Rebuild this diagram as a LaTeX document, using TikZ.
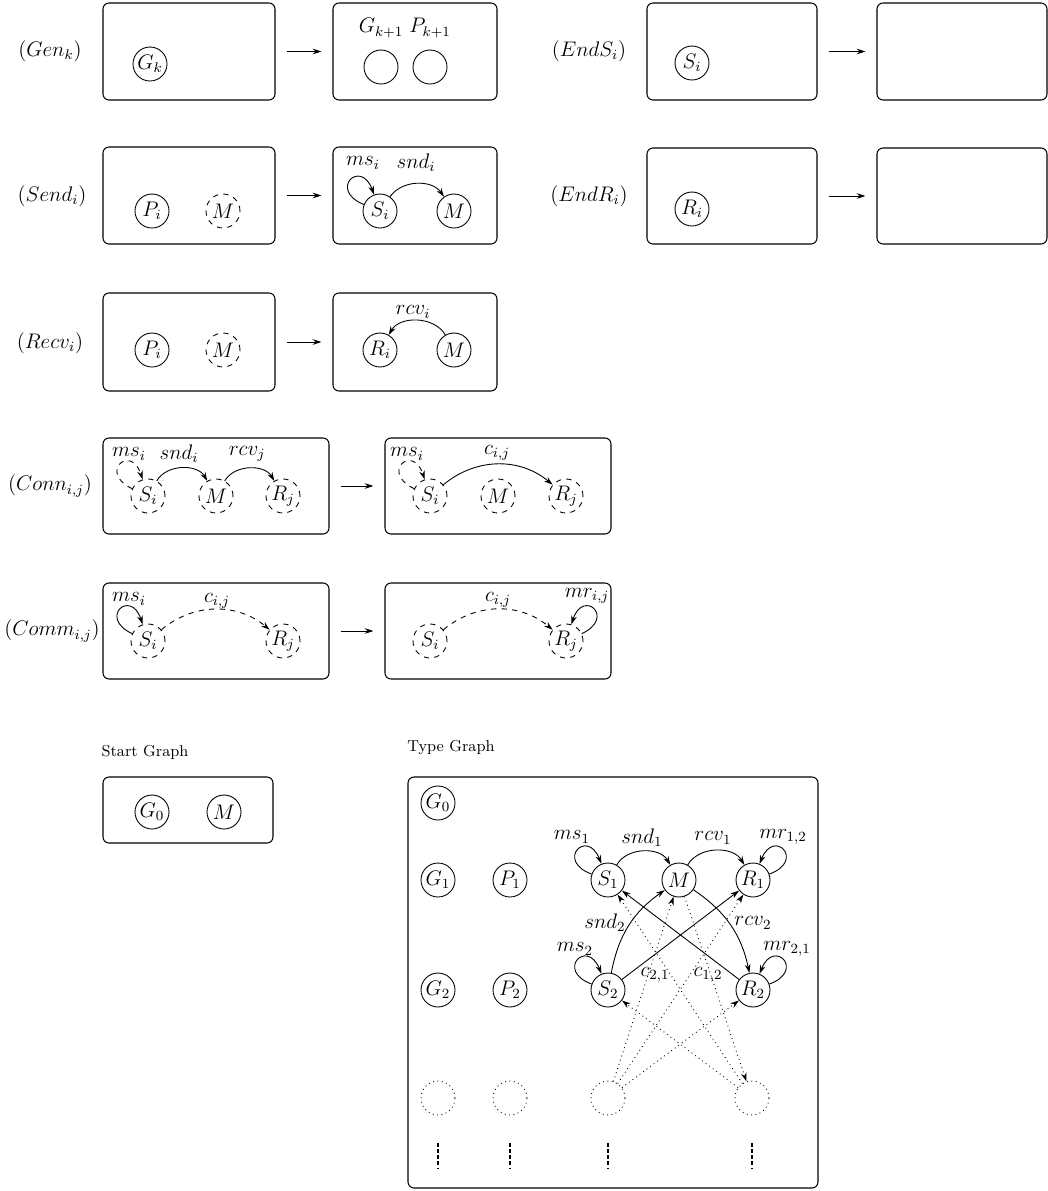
\documentclass[tikz,border=0pt]{standalone}
\usetikzlibrary{arrows.meta,fit}
\begin{document}
\begin{tikzpicture}[x=0.02cm,y=-0.02cm,
  nd/.style={circle,draw,line width=0.5pt,minimum size=0.68cm,inner sep=0pt,font=\fontsize{12}{14}\selectfont},
  dnd/.style={nd,dashed},
  tnd/.style={nd,dotted},
  lbl/.style={inner sep=0pt,font=\fontsize{12}{14}\selectfont},
  ttl/.style={inner sep=0pt,font=\fontsize{9}{11}\selectfont},
  rbox/.style={draw,rounded corners=0.12cm,line width=0.6pt,inner sep=0pt},
  arr/.style={-{Stealth[length=5pt,width=3.2pt]},line width=0.5pt},
  rarr/.style={arr,shorten <=0.22cm,shorten >=0.22cm},
  lp/.style={loop,looseness=7},
  every loop/.style={},
  vdots/.style={line width=0.8pt,dash pattern=on 2pt off 1.5pt},
]
\useasboundingbox (0,0) rectangle (1048,1191);

% ---------- Gen_k
\node[lbl] (tGen) at (50,51) {$(Gen_k)$};
\node[rbox,fit={(103,3) (275,100)}] (genL) {};
\node[nd] (genGk) at (150,64) {$G_k$};
\node[rbox,fit={(333,3) (497,100)}] (genR) {};
\node[nd] (genG) at (381,67) {};
\node[nd] (genP) at (430,67) {};
\node[lbl] (genGl) at (381,28) {$G_{k+1}$};
\node[lbl] (genPl) at (430,28) {$P_{k+1}$};
\draw[rarr] (genL) -- (genR);

% ---------- EndS_i
\node[lbl] (tEndS) at (589,51) {$(EndS_i)$};
\node[rbox,fit={(647,3) (817,100)}] (endsL) {};
\node[nd] (endsS) at (692,63) {$S_i$};
\node[rbox,fit={(877,3) (1047,100)}] (endsR) {};
\draw[rarr] (endsL) -- (endsR);

% ---------- EndR_i
\node[lbl] (tEndR) at (589,196) {$(EndR_i)$};
\node[rbox,fit={(647,148) (817,244)}] (endrL) {};
\node[nd] (endrR) at (692,209) {$R_i$};
\node[rbox,fit={(877,148) (1047,244)}] (endrRb) {};
\draw[rarr] (endrL) -- (endrRb);

% ---------- Send_i
\node[lbl] (tSend) at (52,196) {$(Send_i)$};
\node[rbox,fit={(103,147) (275,244)}] (sendL) {};
\node[nd] (sendP) at (152,211) {$P_i$};
\node[dnd] (sendM) at (223,211) {$M$};
\node[rbox,fit={(333,147) (497,244)}] (sendR) {};
\node[nd] (sendS) at (380,211) {$S_i$};
\node[nd] (sendM2) at (454,211) {$M$};
\node[lbl] (sendms) at (363,163) {$ms_i$};
\node[lbl] (sendsnd) at (416,163) {$snd_i$};
\draw[arr] (sendS) to[lp,out=158,in=110] (sendS);
\draw[arr] (sendS) to[bend left=55] (sendM2);
\draw[rarr] (sendL) -- (sendR);

% ---------- Recv_i
\node[lbl] (tRecv) at (50,343) {$(Recv_i)$};
\node[rbox,fit={(103,293) (275,391)}] (recvL) {};
\node[nd] (recvP) at (152,350) {$P_i$};
\node[dnd] (recvM) at (223,350) {$M$};
\node[rbox,fit={(333,293) (497,391)}] (recvR) {};
\node[nd] (recvRi) at (380,350) {$R_i$};
\node[nd] (recvM2) at (454,350) {$M$};
\node[lbl] (recvrcv) at (413,312) {$rcv_i$};
\draw[arr] (recvM2) to[bend right=60] (recvRi);
\draw[rarr] (recvL) -- (recvR);

% ---------- Conn_{i,j}
\node[lbl] (tConn) at (50,486) {$(Conn_{i,j})$};
\node[rbox,fit={(103,438) (329,534)}] (connL) {};
\node[dnd] (connS) at (148,496) {$S_i$};
\node[dnd] (connM) at (216,496) {$M$};
\node[dnd] (connR) at (283,496) {$R_j$};
\node[lbl] (connms) at (129,454) {$ms_i$};
\node[lbl] (connsnd) at (179,454) {$snd_i$};
\node[lbl] (connrcv) at (247,454) {$rcv_j$};
\draw[arr,dashed] (connS) to[lp,out=155,in=108] (connS);
\draw[arr] (connS) to[bend left=60] (connM);
\draw[arr] (connM) to[bend left=60] (connR);
\node[rbox,fit={(385,438) (611,534)}] (connRb) {};
\node[dnd] (connS2) at (430,496) {$S_i$};
\node[dnd] (connM2) at (498,496) {$M$};
\node[dnd] (connR2) at (566,496) {$R_j$};
\node[lbl] (connms2) at (407,454) {$ms_i$};
\node[lbl] (connc) at (497,453) {$c_{i,j}$};
\draw[arr,dashed] (connS2) to[lp,out=155,in=108] (connS2);
\draw[arr] (connS2) to[bend left=40] (connR2);
\draw[rarr] (connL) -- (connRb);

% ---------- Comm_{i,j}
\node[lbl] (tComm) at (52,631) {$(Comm_{i,j})$};
\node[rbox,fit={(103,583) (329,679)}] (commL) {};
\node[dnd] (commS) at (148,641) {$S_i$};
\node[dnd] (commR) at (283,641) {$R_j$};
\node[lbl] (commms) at (129,599) {$ms_i$};
\node[lbl] (commc) at (217,601) {$c_{i,j}$};
\draw[arr] (commS) to[lp,out=155,in=108] (commS);
\draw[arr,dashed] (commS) to[bend left=40] (commR);
\node[rbox,fit={(385,583) (611,679)}] (commRb) {};
\node[dnd] (commS2) at (430,641) {$S_i$};
\node[dnd] (commR2) at (566,641) {$R_j$};
\node[lbl] (commc2) at (498,600) {$c_{i,j}$};
\node[lbl] (commmr) at (587,596) {$mr_{i,j}$};
\draw[arr,dashed] (commS2) to[bend left=40] (commR2);
\draw[arr] (commR2) to[lp,out=25,in=72] (commR2);
\draw[rarr] (commL) -- (commRb);

% ---------- Start graph
\node[ttl] (tStart) at (145,752) {Start Graph};
\node[rbox,fit={(103,777) (273,843)}] (startB) {};
\node[nd] (stG0) at (152,812) {$G_0$};
\node[nd] (stM) at (224,812) {$M$};

% ---------- Type graph
\node[ttl] (tType) at (451,748) {Type Graph};
\node[rbox,fit={(408,777) (818,1188)}] (typeB) {};
\node[nd] (tG0) at (438,803) {$G_0$};
\node[nd] (tG1) at (438,880) {$G_1$};
\node[nd] (tP1) at (510,880) {$P_1$};
\node[nd] (tG2) at (438,990) {$G_2$};
\node[nd] (tP2) at (510,990) {$P_2$};
\node[nd] (tS1) at (608,880) {$S_1$};
\node[nd] (tM) at (679,880) {$M$};
\node[nd] (tR1) at (753,880) {$R_1$};
\node[nd] (tS2) at (608,990) {$S_2$};
\node[nd] (tR2) at (753,990) {$R_2$};
\node[tnd] (tdG) at (438,1098) {};
\node[tnd] (tdP) at (510,1098) {};
\node[tnd] (tdS) at (608,1098) {};
\node[tnd] (tdR) at (752,1098) {};
\foreach \x in {438,510,608,752} \draw[vdots] (\x,1143) -- (\x,1168);

\node[lbl] (lms1) at (572,837) {$ms_1$};
\node[lbl] (lsnd1) at (642,838) {$snd_1$};
\node[lbl] (lrcv1) at (713,838) {$rcv_1$};
\node[lbl] (lmr12) at (783,837) {$mr_{1,2}$};
\node[lbl] (lsnd2) at (605,923) {$snd_2$};
\node[lbl] (lrcv2) at (753,923) {$rcv_2$};
\node[lbl] (lms2) at (575,949) {$ms_2$};
\node[lbl] (lmr21) at (787,949) {$mr_{2,1}$};
\node[lbl] (lc21) at (655,975) {$c_{2,1}$};
\node[lbl] (lc12) at (708,975) {$c_{1,2}$};

\draw[arr] (tS1) to[lp,out=160,in=112] (tS1);
\draw[arr] (tS2) to[lp,out=160,in=112] (tS2);
\draw[arr] (tR1) to[lp,out=20,in=68] (tR1);
\draw[arr] (tR2) to[lp,out=20,in=68] (tR2);
\draw[arr] (tS1) to[bend left=60] (tM);
\draw[arr] (tM) to[bend left=60] (tR1);
\draw[arr] (tS2) to[bend left=22] (tM);
\draw[arr] (tM) to[bend left=22] (tR2);
\draw[arr] (tS2) -- (tR1);
\draw[arr] (tR2) -- (tS1);
\draw[arr,dotted] (tdS) -- (tM);
\draw[arr,dotted] (tdS) -- (tR1);
\draw[arr,dotted] (tdS) -- (tR2);
\draw[arr,dotted] (tdR) -- (tS1);
\draw[arr,dotted] (tdR) -- (tS2);
\draw[arr,dotted] (tM) -- (tdR);
\end{tikzpicture}
\end{document}
